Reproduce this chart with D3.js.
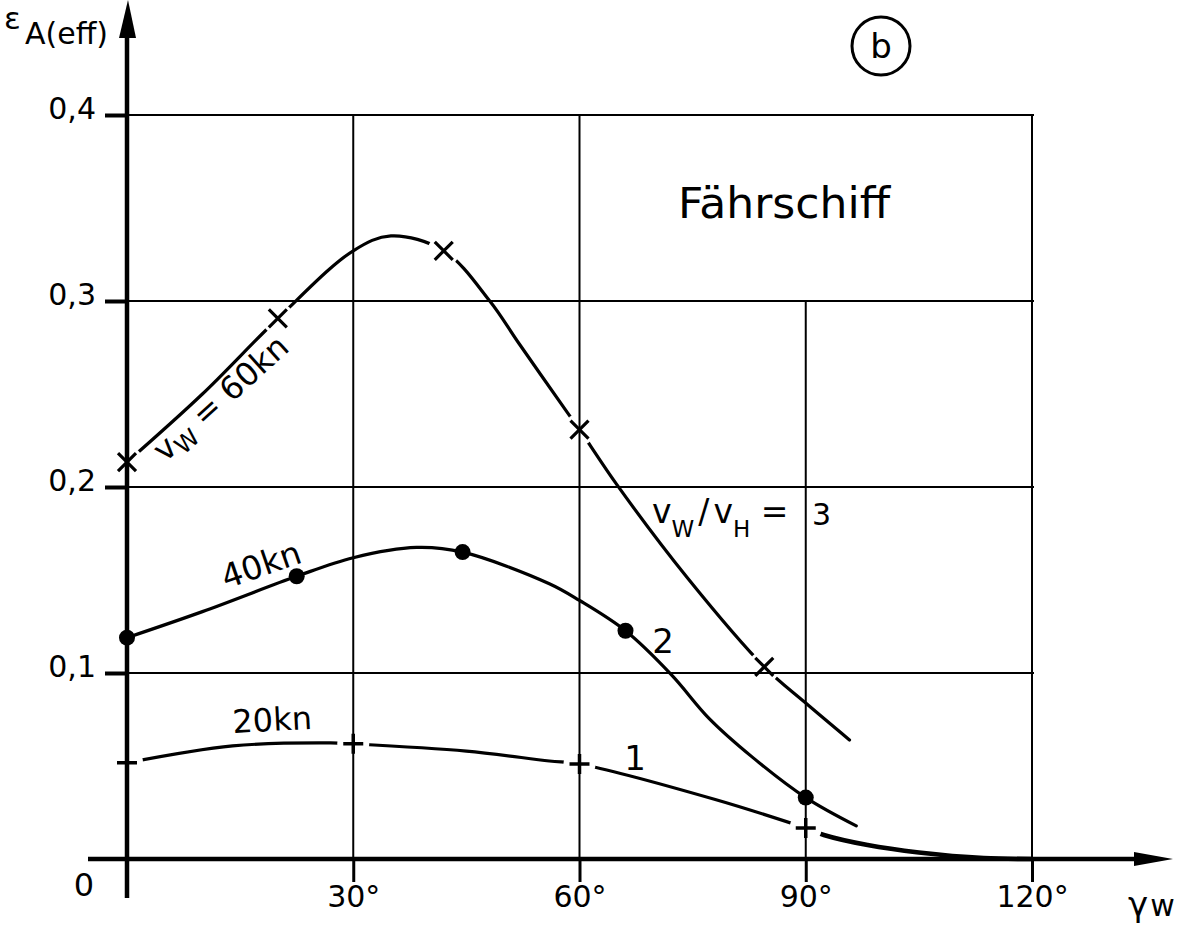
<!DOCTYPE html>
<html>
<head>
<meta charset="utf-8">
<script src="https://cdn.jsdelivr.net/npm/d3@7"></script>
<style>
  html, body { margin: 0; padding: 0; background: #fff; }
  svg { display: block; font-family: "DejaVu Sans", sans-serif; }
</style>
</head>
<body>
<svg id="chart" width="1194" height="933"></svg>
<script>
// Wind angle γW (degrees) and effective thrust ε A(eff) grid values
const xTicks = [30, 60, 90, 120];
const yTicks = [0.1, 0.2, 0.3, 0.4];
// upper end (ε) of each vertical grid line, in xTicks order
const gridTop = [0.4, 0.4, 0.3, 0.4];

// Curve 3: vW = 60 kn  (vW/vH = 3), [γW, ε]
const curve60 = [[0, 0.2134], [10, 0.250], [20, 0.2906], [30, 0.327], [35, 0.335], [42, 0.327],
  [48.1, 0.300], [52, 0.277], [58.4, 0.240], [60, 0.2309], [65, 0.201], [74.3, 0.1512],
  [84.5, 0.1033], [89.8, 0.0845], [95.8, 0.064]];
// Curve 2: 40 kn
const curve40 = [[0, 0.119], [10, 0.133], [22.5, 0.152], [30, 0.162], [38.4, 0.1675], [44.5, 0.165],
  [56, 0.148], [60, 0.139], [66.1, 0.1227], [72.2, 0.099], [77.2, 0.0755], [83, 0.0545],
  [90, 0.033], [96.7, 0.0178]];
// Curve 1: 20 kn
const curve20 = [[0, 0.0517], [14, 0.0608], [27, 0.0624], [30, 0.0619], [45, 0.058], [56, 0.0527],
  [60, 0.0511], [78, 0.032], [90, 0.0167], [92.4, 0.0129], [98.2, 0.0075], [105, 0.0035],
  [113.6, 0.0005], [120, 0]];

// Measured points on each curve
const marks60 = [[0, 0.2134], [20, 0.2906], [42, 0.327], [60, 0.2309], [84.5, 0.1033]];
const marks40 = [[0, 0.119], [22.5, 0.152], [44.5, 0.165], [66.1, 0.1227], [90, 0.033]];
const marks20 = [[0, 0.0517], [30, 0.0619], [60, 0.0511], [90, 0.0167]];

const ink = "#000";
const svg = d3.select("#chart");
const x = d3.scaleLinear().domain([0, 120]).range([127, 1032]);
const y = d3.scaleLinear().domain([0, 0.4]).range([859, 115]);

// ---- grid ----
const grid = svg.append("g").attr("stroke", ink).attr("stroke-width", 2);
grid.selectAll("line.h").data(yTicks).join("line").attr("class", "h")
  .attr("x1", x(0)).attr("x2", x(120) + 2)
  .attr("y1", d => y(d)).attr("y2", d => y(d));
grid.selectAll("line.v").data(xTicks).join("line").attr("class", "v")
  .attr("x1", d => x(d)).attr("x2", d => x(d))
  .attr("y1", (d, i) => y(gridTop[i])).attr("y2", y(0));

// ---- axes ----
const fmtComma = d => d3.format(".1f")(d).replace(".", ",");
const yAxis = svg.append("g").attr("transform", `translate(${x(0)},0)`)
  .call(d3.axisLeft(y).tickValues(yTicks).tickSize(22).tickPadding(9).tickFormat(fmtComma));
yAxis.attr("font-family", "DejaVu Sans").attr("font-size", 30);
yAxis.select(".domain").remove();
yAxis.selectAll(".tick line").attr("stroke", ink).attr("stroke-width", 4);
yAxis.selectAll(".tick text").attr("fill", ink).attr("dy", "0.1em");

const xAxis = svg.append("g").attr("transform", `translate(0,${y(0)})`)
  .call(d3.axisBottom(x).tickValues(xTicks).tickSize(23).tickPadding(4).tickFormat(d => d + "°"));
xAxis.attr("font-family", "DejaVu Sans").attr("font-size", 30);
xAxis.select(".domain").remove();
xAxis.selectAll(".tick line").attr("stroke", ink).attr("stroke-width", 3);
xAxis.selectAll(".tick text").attr("fill", ink);

// main axis lines with arrow heads
svg.append("line").attr("x1", 88).attr("x2", 1140).attr("y1", y(0)).attr("y2", y(0))
  .attr("stroke", ink).attr("stroke-width", 4.5);
svg.append("path").attr("d", `M1134,${y(0) - 7}L1173,${y(0)}L1134,${y(0) + 7}Z`).attr("fill", ink);
svg.append("line").attr("x1", x(0)).attr("x2", x(0)).attr("y1", 898).attr("y2", 34)
  .attr("stroke", ink).attr("stroke-width", 4.5);
svg.append("path").attr("d", `M${x(0) - 8},38L${x(0) + 1},0L${x(0) + 9},38Z`).attr("fill", ink);

// ---- curves (broken around cross and plus marks) ----
const defs = svg.append("defs");
const mask = defs.append("mask").attr("id", "markGaps")
  .attr("maskUnits", "userSpaceOnUse").attr("x", 0).attr("y", 0).attr("width", 1194).attr("height", 933);
mask.append("rect").attr("width", 1194).attr("height", 933).attr("fill", "#fff");
mask.selectAll("circle").data(marks60.concat(marks20)).join("circle")
  .attr("cx", d => x(d[0])).attr("cy", d => y(d[1])).attr("r", 16).attr("fill", "#000");

const line = d3.line().x(d => x(d[0])).y(d => y(d[1])).curve(d3.curveCatmullRom.alpha(0.5));
const curves = svg.append("g").attr("mask", "url(#markGaps)")
  .attr("fill", "none").attr("stroke", ink).attr("stroke-linecap", "round");
curves.append("path").attr("d", line(curve60)).attr("stroke-width", 3.2);
curves.append("path").attr("d", line(curve40)).attr("stroke-width", 3.2);
curves.append("path").attr("d", line(curve20.filter(d => d[0] <= 90))).attr("stroke-width", 3.2);
curves.append("path").attr("d", line(curve20.filter(d => d[0] >= 90))).attr("stroke-width", 4.6);

// ---- marks ----
svg.append("g").selectAll("path").data(marks60).join("path")
  .attr("transform", d => `translate(${x(d[0])},${y(d[1])})`)
  .attr("d", "M-9,-9L9,9M-9,9L9,-9").attr("stroke", ink).attr("stroke-width", 3.2).attr("fill", "none");
svg.append("g").selectAll("circle").data(marks40).join("circle")
  .attr("cx", d => x(d[0])).attr("cy", d => y(d[1])).attr("r", 8).attr("fill", ink);
svg.append("g").selectAll("path").data(marks20).join("path")
  .attr("transform", d => `translate(${x(d[0])},${y(d[1])})`)
  .attr("d", "M-10,0H10M0,-10V10").attr("stroke", ink).attr("stroke-width", 3.5).attr("fill", "none");

// ---- text ----
const txt = (px, py, s, opts = {}) => svg.append("text")
  .attr("x", px).attr("y", py).attr("font-size", opts.size || 30).attr("fill", ink)
  .attr("text-anchor", opts.anchor || "start").text(s);

// axis titles
txt(4, 29, "ε", { size: 31 });
txt(25, 44, "A(eff)", { size: 30 });
txt(84, 896, "0", { size: 32, anchor: "middle" });
const gw = svg.append("text").attr("x", 1128).attr("y", 916).attr("font-size", 34).attr("fill", ink);
gw.append("tspan").text("γ");
gw.append("tspan").attr("dx", 2).attr("font-size", 30).text("w");

// panel tag
svg.append("circle").attr("cx", 881).attr("cy", 46).attr("r", 29)
  .attr("fill", "none").attr("stroke", ink).attr("stroke-width", 3);
txt(881, 58, "b", { size: 34, anchor: "middle" });

// title
txt(678, 218, "Fährschiff", { size: 42 }).attr("textLength", 212).attr("lengthAdjust", "spacingAndGlyphs");

// curve annotations
const l60 = svg.append("text").attr("transform", "translate(165,463) rotate(-42)")
  .attr("font-size", 32).attr("fill", ink);
l60.append("tspan").text("v");
l60.append("tspan").attr("font-size", 24).attr("dy", 7).text("W");
l60.append("tspan").attr("dy", -7).text(" = 60kn");

svg.append("text").attr("transform", "translate(226,589) rotate(-19)")
  .attr("font-size", 33).attr("fill", ink).text("40kn");
svg.append("text").attr("transform", "translate(233,733) rotate(-3)")
  .attr("font-size", 32).attr("fill", ink).text("20kn");

const lr = svg.append("text").attr("x", 652).attr("y", 523).attr("font-size", 33).attr("fill", ink);
lr.append("tspan").text("v");
lr.append("tspan").attr("font-size", 23).attr("dy", 14).text("W");
lr.append("tspan").attr("dy", -14).attr("dx", 4).text("/");
lr.append("tspan").attr("dx", 4).text("v");
lr.append("tspan").attr("font-size", 23).attr("dy", 14).text("H");
lr.append("tspan").attr("dy", -14).text(" =");
txt(812, 525, "3", { size: 30 });
txt(635, 770, "1", { size: 34, anchor: "middle" });
txt(663, 653, "2", { size: 34, anchor: "middle" });
</script>
</body>
</html>
